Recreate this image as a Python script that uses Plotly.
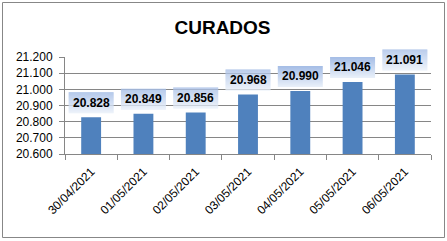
import plotly.graph_objects as go

categories = ["30/04/2021", "01/05/2021", "02/05/2021", "03/05/2021",
              "04/05/2021", "05/05/2021", "06/05/2021"]
values = [20828, 20849, 20856, 20968, 20990, 21046, 21091]
y_ticks = [20600, 20700, 20800, 20900, 21000, 21100, 21200]
y_min, y_max = 20600, 21200

W, H = 447, 241
L, R, T, B = 65, 16, 57, 87
pw, ph = W - L - R, H - T - B

fig = go.Figure()
fig.add_trace(go.Bar(x=categories, y=values, width=0.38,
                     marker=dict(color="#4F81BD", line=dict(width=0)),
                     hoverinfo="skip"))

shapes = []
annotations = []
top_c = (166, 190, 230)
bot_c = (232, 239, 249)
box_h = 21
ncat = len(categories)
for i, (c, v) in enumerate(zip(categories, values)):
    xp = (i + 0.5) / ncat
    yp = (v - y_min) / (y_max - y_min)
    for k in range(box_h):
        t = k / (box_h - 1)
        col = tuple(round(bot_c[j] + (top_c[j] - bot_c[j]) * t) for j in range(3))
        shapes.append(dict(type="rect", xref="paper", yref="paper",
                           xsizemode="pixel", ysizemode="pixel",
                           xanchor=xp, yanchor=yp,
                           x0=-22.5, x1=22.5, y0=4 + k, y1=5 + k,
                           fillcolor="rgb(%d,%d,%d)" % col,
                           line=dict(width=0), layer="above"))
    annotations.append(dict(x=c, y=v, xref="x", yref="y",
                            text=f"{v:,}".replace(",", "."),
                            showarrow=False, yshift=14.5, yanchor="middle",
                            font=dict(family="Liberation Sans", size=12,
                                      color="#000000", weight="bold")))

# outer border
shapes.append(dict(type="rect", xref="paper", yref="paper",
                   x0=(2.5 - L) / pw, x1=(444.5 - L) / pw,
                   y0=(T + ph - 237.5) / ph, y1=(T + ph - 2.5) / ph,
                   line=dict(color="#878787", width=1), layer="below"))

fig.update_layout(
    width=W, height=H,
    margin=dict(l=L, r=R, t=T, b=B),
    paper_bgcolor="white", plot_bgcolor="white",
    separators=",.",
    showlegend=False,
    title=dict(text="<b>CURADOS</b>", x=222.5 / W, xanchor="center",
               y=1 - 27 / H, yanchor="middle", yref="container",
               font=dict(family="Liberation Sans", size=19, color="#000000")),
    shapes=shapes,
    annotations=annotations,
    xaxis=dict(type="category", tickangle=-45, tickson="boundaries",
               ticks="outside", ticklen=5, tickcolor="#868686",
               ticklabelstandoff=5,
               showline=True, linecolor="#868686", linewidth=1,
               showgrid=False,
               tickfont=dict(family="Liberation Sans", size=12, color="#000000")),
    yaxis=dict(range=[y_min, y_max], tickvals=y_ticks,
               tickformat=",.0f", ticks="outside", ticklen=5,
               ticklabelstandoff=4,
               tickcolor="#868686", showline=True, linecolor="#868686",
               linewidth=1, showgrid=True, gridcolor="#868686", gridwidth=1,
               zeroline=False,
               tickfont=dict(family="Liberation Sans", size=12, color="#000000")),
    bargap=0.62,
)

fig.write_html("out.html")
